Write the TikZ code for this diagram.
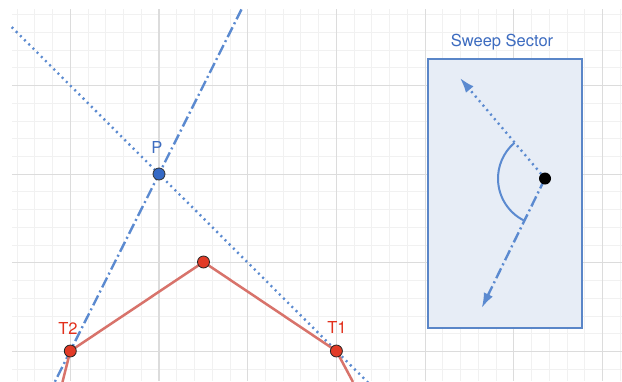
\documentclass[tikz,border=0pt]{standalone}
\usepackage{fontspec}
\setmainfont{TeX Gyre Heros}
\usetikzlibrary{calc,arrows.meta}
\definecolor{gridmaj}{HTML}{DCDCDC}
\definecolor{gridmin}{HTML}{F1F1F1}
\definecolor{lineblue}{HTML}{5B8AD0}
\definecolor{textblue}{HTML}{3D6CC0}
\definecolor{boxfill}{HTML}{E7EDF6}
\definecolor{boxline}{HTML}{5A86C8}
\definecolor{redline}{HTML}{D8736B}
\definecolor{reddot}{HTML}{E23B27}
\definecolor{pdot}{HTML}{3569C5}
\definecolor{textred}{HTML}{E2301C}
\begin{document}
\begin{tikzpicture}[x=1pt,y=-1pt,
  gridminor/.style={draw=gridmin,line width=0.9pt},
  gridmajor/.style={draw=gridmaj,line width=1.1pt},
  dotline/.style={draw=lineblue,line width=2.4pt,dash pattern=on 2pt off 3.9pt},
  dashdotline/.style={draw=lineblue,line width=2.4pt,dash pattern=on 11pt off 3.5pt on 2pt off 3.5pt},
  redpath/.style={draw=redline,line width=2.5pt,line join=round},
  reddotst/.style={circle,fill=reddot,draw=black!85,line width=0.8pt,minimum size=12pt,inner sep=0pt},
  pdotst/.style={circle,fill=pdot,draw=black!80,line width=0.8pt,minimum size=12pt,inner sep=0pt},
  blackdot/.style={circle,fill=black,minimum size=12pt,inner sep=0pt},
  lblred/.style={text=textred,font=\fontsize{16.5}{19}\selectfont,inner sep=0pt},
  lblblue/.style={text=textblue,font=\fontsize{16.5}{19}\selectfont,inner sep=0pt},
  sectorbox/.style={draw=boxline,fill=boxfill,line width=2pt},
  arrowhd/.style={-{Latex[length=15pt,width=10pt]}}
]
\useasboundingbox (0,0) rectangle (622,381);
\clip (0,0) rectangle (622,381);
\fill[white] (0,0) rectangle (622,381);
% grid
\begin{scope}
  \clip (12,9) rectangle (622,381);
  \foreach \i in {-3,...,31} \draw[gridminor] ({70.3+17.74*\i},9) -- ({70.3+17.74*\i},381);
  \foreach \j in {-4,...,16} \draw[gridminor] (12,{85.5+17.74*\j}) -- (622,{85.5+17.74*\j});
  \foreach \i in {0,...,6} \draw[gridmajor] ({70.3+88.7*\i},9) -- ({70.3+88.7*\i},381);
  \foreach \j in {0,...,3} \draw[gridmajor] (12,{85.5+88.7*\j}) -- (622,{85.5+88.7*\j});
\end{scope}
% key positions
\coordinate (P) at (159,174);
\coordinate (V) at (203.5,262);
\coordinate (T2) at (70.3,351);
\coordinate (T1) at (336.4,351);
\coordinate (T2low) at (62.5,382);
\coordinate (T1low) at (353,382);
\coordinate (ddtop) at ($(T2)!1.93!(P)$);
\coordinate (ddbot) at ($(P)!1.2!(T2)$);
\coordinate (dottop) at ($(P)!-0.83!(T1)$);
\coordinate (dotbot) at ($(P)!1.2!(T1)$);
% construction lines
\draw[dashdotline] (ddtop) -- (ddbot);
\draw[dotline] (dottop) -- (dotbot);
% red polyline
\draw[redpath] (T2low) -- (T2) -- (V) -- (T1) -- (T1low);
% points
\node[reddotst] (T2dot) at (T2) {};
\node[reddotst] (T1dot) at (T1) {};
\node[reddotst] (Vdot) at (V) {};
\node[pdotst] (Pdot) at (P) {};
\node[lblred] (T2lbl) at (68,328) {T2};
\node[lblred] (T1lbl) at (337,327) {T1};
\node[lblblue] (Plbl) at (157,147) {P};
% sweep sector
\node[lblblue] (title) at (502,42) {Sweep Sector};
\draw[sectorbox] (427.7,59) rectangle (582.3,328);
\coordinate (S) at (545,178.5);
\coordinate (A1) at (460,78);
\coordinate (A2) at (481.7,308);
\draw[dotline,arrowhd] (S) -- (A1);
\draw[dashdotline,arrowhd] (S) -- (A2);
\draw[draw=lineblue,line width=2pt] ($(S)+(117:47)$) arc[start angle=117,end angle=229.4,radius=47];
\node[blackdot] (Sdot) at (S) {};
\end{tikzpicture}
\end{document}
